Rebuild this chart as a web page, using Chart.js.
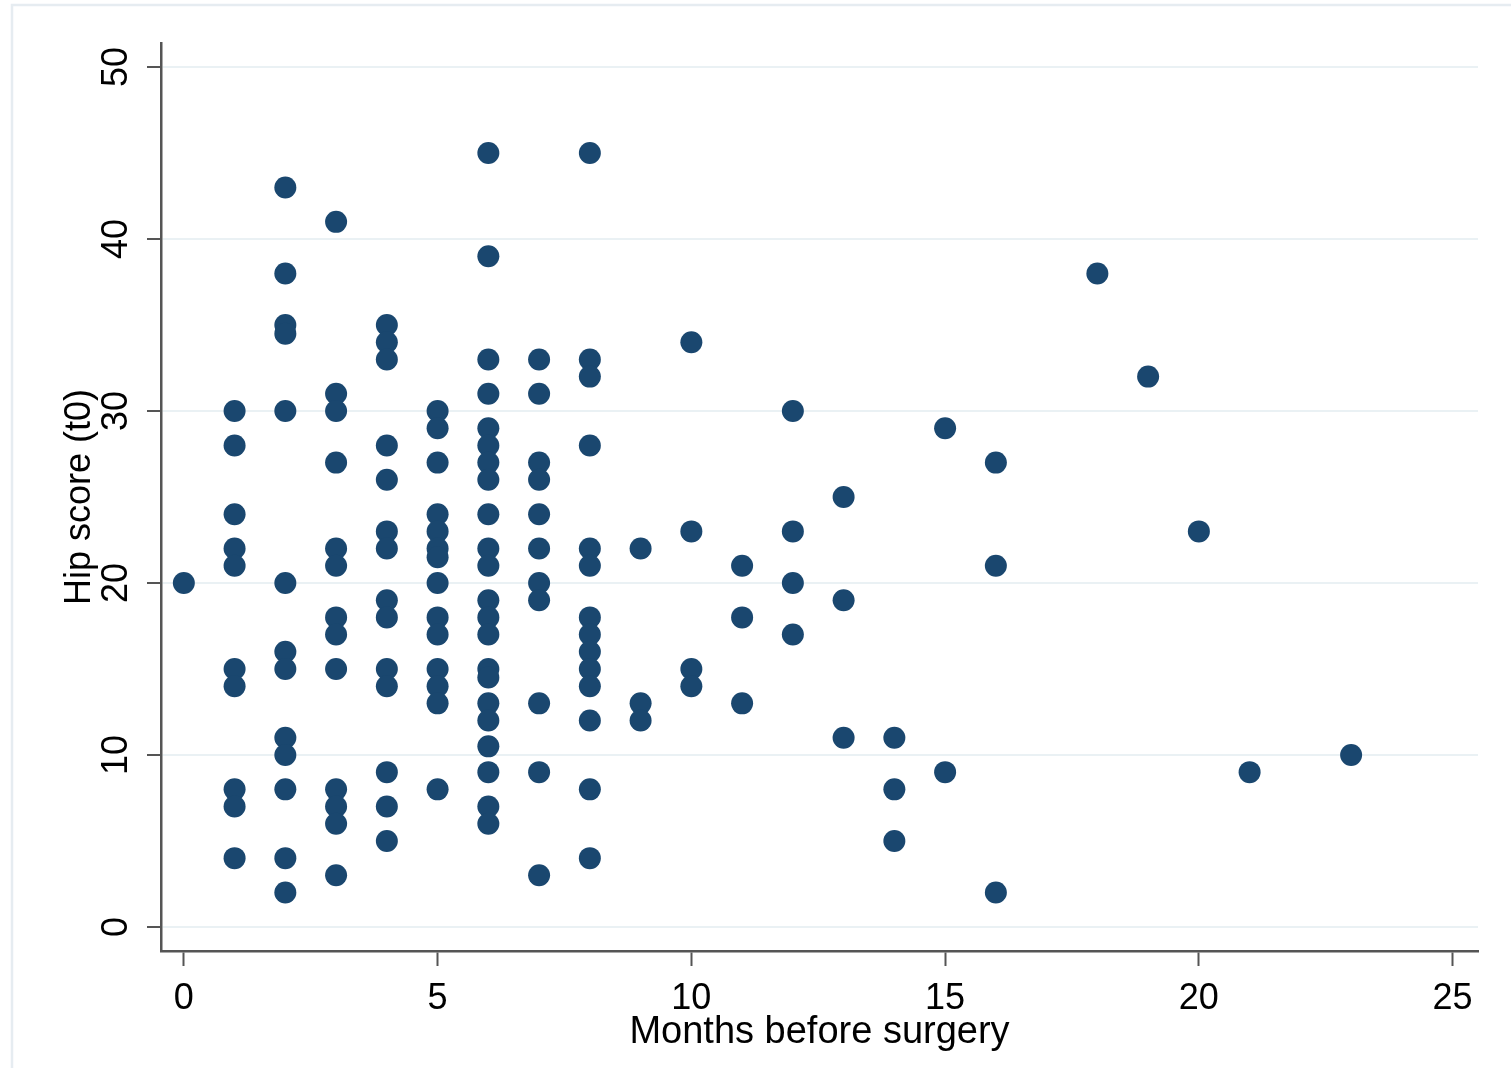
<!DOCTYPE html>
<html>
<head>
<meta charset="utf-8">
<script src="https://cdn.jsdelivr.net/npm/chart.js@4.4.1/dist/chart.umd.min.js"></script>
<style>
  html, body { margin: 0; padding: 0; background: #fff; }
  #wrap { width: 1511px; height: 1068px; }
</style>
</head>
<body>
<div id="wrap"><canvas id="scatter" width="1511" height="1068"></canvas></div>
<script>
// months before surgery (x) and the hip scores seen at each month
const monthValues = [0, 1, 2, 3, 4, 5, 6, 7, 8, 9, 10, 11, 12, 13, 14, 15, 16, 18, 19, 20, 21, 23];
const scoresByMonth = [
	[20],
	[30, 28, 24, 22, 21, 15, 14, 8, 7, 4],
	[43, 38, 35, 34.5, 30, 20, 16, 15, 11, 10, 8, 4, 2],
	[41, 31, 30, 27, 22, 21, 18, 17, 15, 8, 7, 6, 3],
	[35, 34, 33, 28, 26, 23, 22, 19, 18, 15, 14, 9, 7, 5],
	[30, 29, 27, 24, 23, 22, 21.5, 20, 18, 17, 15, 14, 13, 8],
	[45, 39, 33, 31, 29, 28, 27, 26, 24, 22, 21, 19, 18, 17, 15, 14.5, 13, 12, 10.5, 9, 7, 6],
	[33, 31, 27, 26, 24, 22, 20, 19, 13, 9, 3],
	[45, 33, 32, 28, 22, 21, 18, 17, 16, 15, 14, 12, 8, 4],
	[22, 13, 12],
	[34, 23, 15, 14],
	[21, 18, 13],
	[30, 23, 20, 17],
	[25, 19, 11],
	[11, 8, 5],
	[29, 9],
	[27, 21, 2],
	[38],
	[32],
	[23],
	[9],
	[10]
];
const xTicks = [0, 5, 10, 15, 20, 25];
const yTicks = [0, 10, 20, 30, 40, 50];

const points = [];
monthValues.forEach((m, i) => {
	scoresByMonth[i].forEach(s => points.push({x: m, y: s}));
});

const navy = '#1a476f';
const axisGrey = '#555555';
const labelFont = {family: '"Liberation Sans", Arial, sans-serif', size: 36};

// fond blanc + cadre clair comme Stata
const background = {
	id: 'background',
	beforeDraw(chart) {
		const c = chart.ctx;
		c.save();
		c.fillStyle = '#ffffff';
		c.fillRect(0, 0, chart.width, chart.height);
		c.strokeStyle = '#e6ecf1';
		c.lineWidth = 2.5;
		c.strokeRect(12, 5, chart.width + 20, chart.height + 20);
		c.restore();
	}
};

// labels de l'axe y tournes de 90 degres
const yLabels = {
	id: 'yLabels',
	afterDraw(chart) {
		const c = chart.ctx;
		const scale = chart.scales.y;
		c.save();
		c.fillStyle = '#000';
		c.font = '36px "Liberation Sans", Arial, sans-serif';
		c.textAlign = 'center';
		c.textBaseline = 'middle';
		yTicks.forEach(v => {
			const py = scale.getPixelForValue(v);
			c.save();
			c.translate(117, py);
			c.rotate(-Math.PI / 2);
			c.fillText(String(v), 0, 0);
			c.restore();
		});
		c.restore();
	}
};

const ctx = document.getElementById('scatter').getContext('2d');
new Chart(ctx, {
	type: 'scatter',
	data: {
		datasets: [{
			data: points,
			backgroundColor: navy,
			borderColor: navy,
			pointRadius: 11,
			pointBorderWidth: 0,
			pointHoverRadius: 11
		}]
	},
	options: {
		responsive: false,
		animation: false,
		devicePixelRatio: 1,
		layout: {padding: {top: 43, right: 33, left: 0, bottom: 0}},
		plugins: {
			legend: {display: false},
			tooltip: {enabled: false}
		},
		scales: {
			x: {
				type: 'linear',
				min: -0.45,
				max: 25.5,
				afterBuildTicks: (scale) => { scale.ticks = xTicks.map(v => ({value: v})); },
				afterFit: (scale) => { scale.height = 117; },
				border: {color: axisGrey, width: 2.5},
				grid: {drawOnChartArea: false, drawTicks: true, tickLength: 15, tickColor: axisGrey, tickWidth: 2},
				ticks: {color: '#000', font: labelFont, padding: 11, maxRotation: 0, autoSkip: false},
				title: {
					display: true,
					text: 'Months before surgery',
					color: '#000',
					font: {family: labelFont.family, size: 38, lineHeight: 1},
					padding: {top: 0, bottom: 16}
				}
			},
			y: {
				type: 'linear',
				min: -1.4,
				max: 51.4,
				afterBuildTicks: (scale) => { scale.ticks = yTicks.map(v => ({value: v})); },
				afterFit: (scale) => { scale.width = 161; },
				border: {color: axisGrey, width: 2.5},
				grid: {color: '#eaf1f4', lineWidth: 2, drawTicks: true, tickLength: 14, tickColor: axisGrey, tickWidth: 2},
				ticks: {display: false},
				title: {
					display: true,
					text: 'Hip score (t0)',
					color: '#000',
					font: {family: labelFont.family, size: 36, lineHeight: 1},
					padding: {top: 62, bottom: 0}
				}
			}
		}
	},
	plugins: [background, yLabels]
});
</script>
</body>
</html>
